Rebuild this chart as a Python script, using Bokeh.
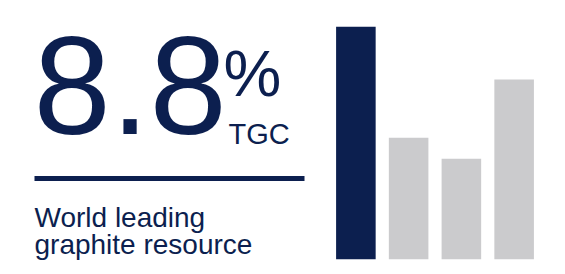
from bokeh.plotting import figure
from bokeh.models import Range1d, FactorRange, ColumnDataSource
from bokeh.layouts import row
from bokeh.core.properties import value
from bokeh.embed import file_html
from bokeh.resources import INLINE

# ---- data ----
categories = ["Project", "Peer A", "Peer B", "Peer C"]
grades = [8.8, 4.6, 3.8, 6.8]          # % TGC
headline_unit = "%"
headline_sub = "TGC"
caption_lines = ["World leading", "graphite resource"]

NAVY = "#0c1f4f"
GREY = "#cbcbcd"
FONT = value("Liberation Sans")
H = 270

# ---- left panel: headline text (data units == page pixels, y down) ----
left = figure(width=329, height=H, output_backend="svg", toolbar_location=None,
              x_range=Range1d(0, 329), y_range=Range1d(H, 0),
              min_border=0, outline_line_color=None)
left.axis.visible = False
left.grid.visible = False

left.text(x=[33], y=[85], text=[f"{grades[0]}"], text_font=FONT,
          text_font_size="139px", text_color=NAVY, text_baseline="middle")
left.text(x=[223], y=[73], text=[headline_unit], text_font=FONT,
          text_font_size="65px", text_color=NAVY, text_baseline="middle")
left.text(x=[228], y=[133.5], text=[headline_sub], text_font=FONT,
          text_font_size="29px", text_color=NAVY, text_baseline="middle")
left.line(x=[34, 304], y=[178, 178], line_color=NAVY, line_width=5)
left.text(x=[34, 34], y=[216.5, 243.5], text=caption_lines, text_font=FONT,
          text_font_size="28px", text_color=NAVY, text_baseline="middle")

# ---- right panel: bars ----
colors = [NAVY] + [GREY] * (len(categories) - 1)
src = ColumnDataSource(dict(cat=categories, val=grades, color=colors))

right = figure(width=236, height=H, output_backend="svg", toolbar_location=None,
               x_range=FactorRange(*categories, range_padding=0),
               y_range=Range1d(-0.428, 9.792),
               min_border=0, min_border_right=25, outline_line_color=None)
right.axis.visible = False
right.grid.visible = False
right.vbar(x="cat", top="val", bottom=0, width=0.75, color="color",
           line_color=None, source=src)

layout = row(left, right)
open("out.html", "w").write(file_html(layout, INLINE))
